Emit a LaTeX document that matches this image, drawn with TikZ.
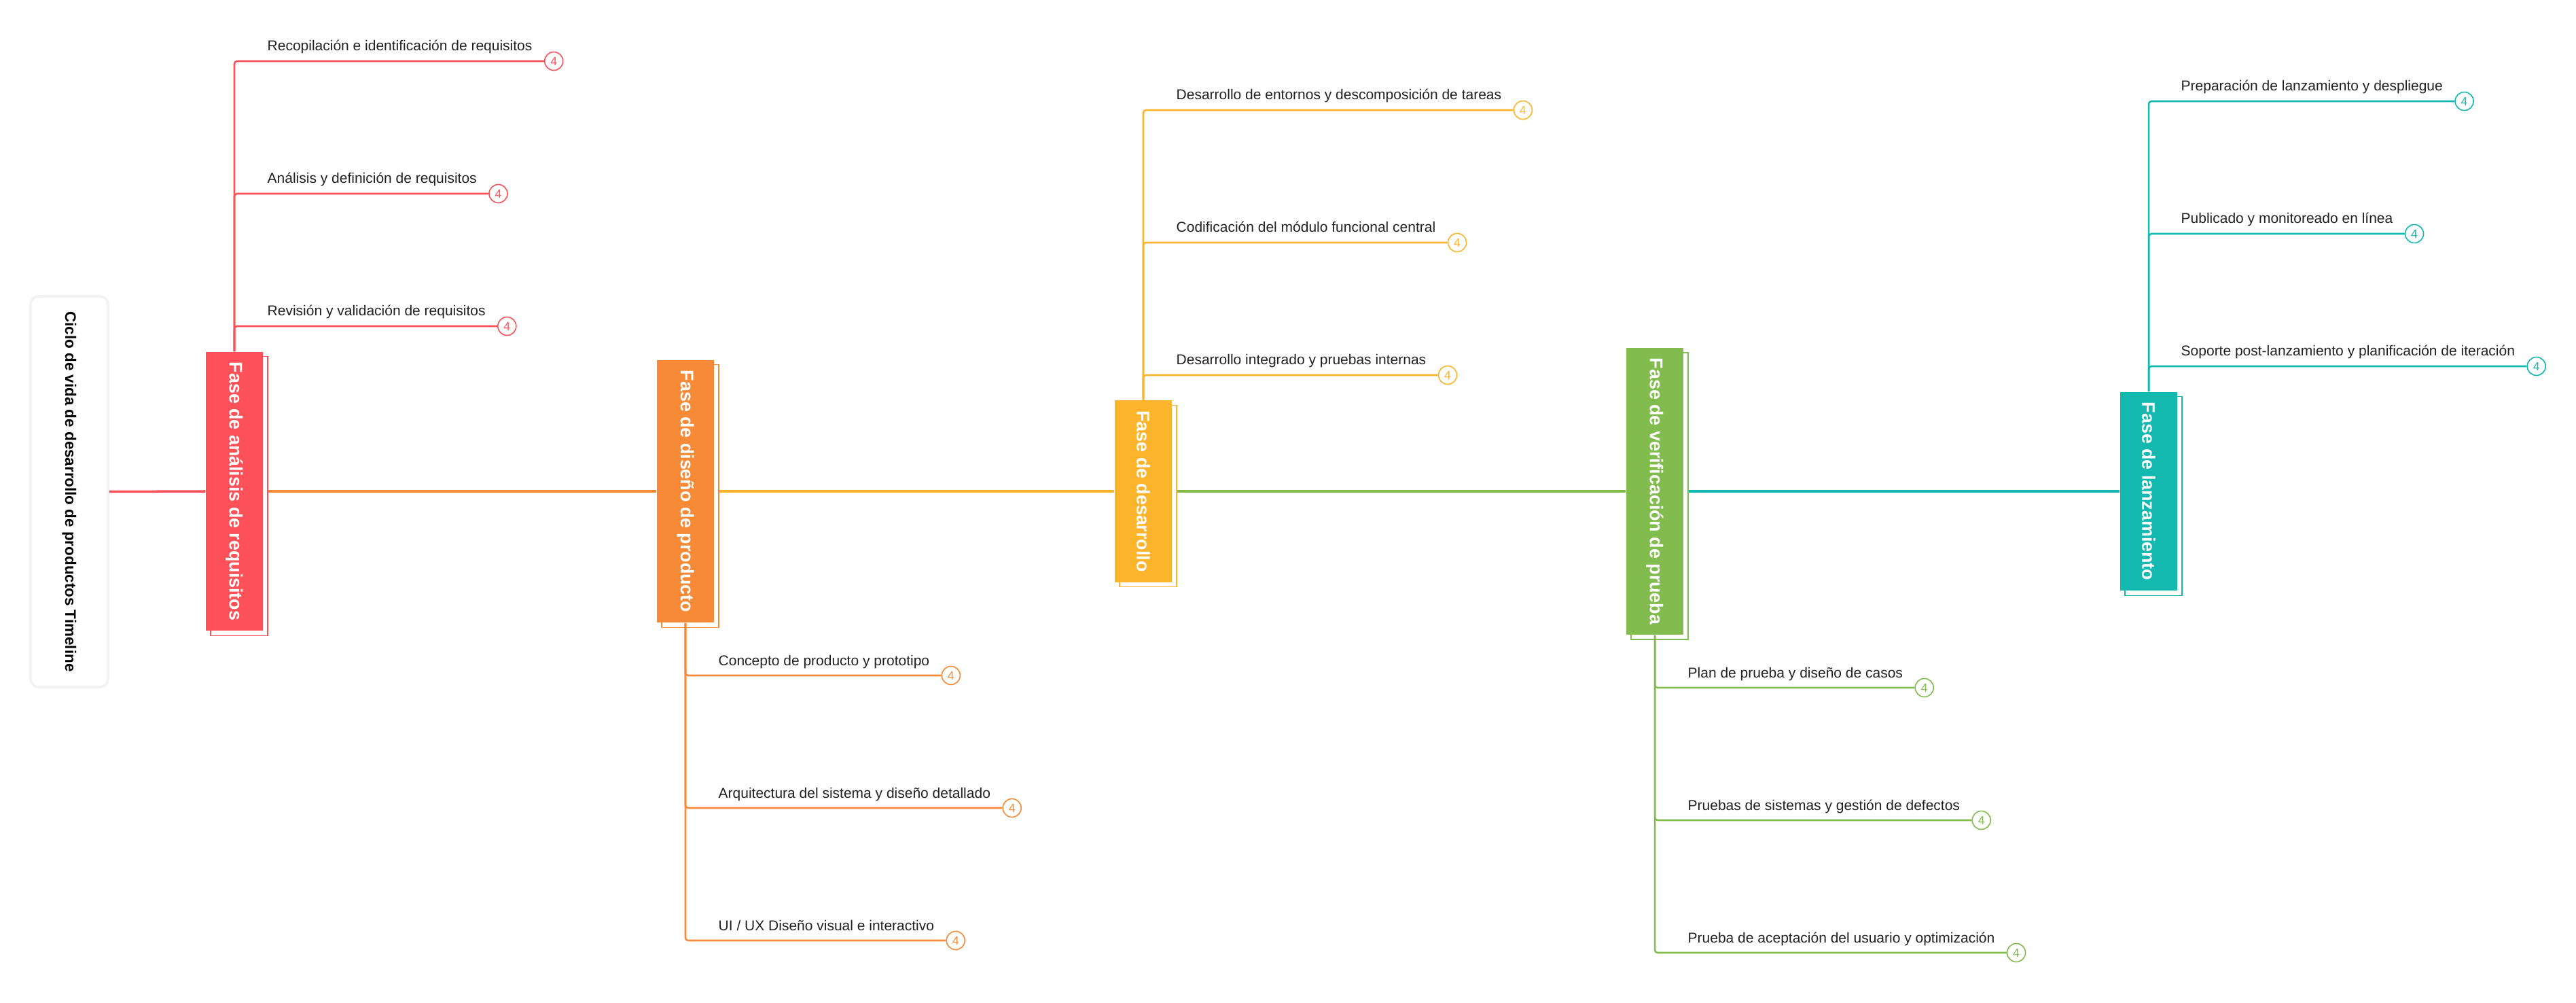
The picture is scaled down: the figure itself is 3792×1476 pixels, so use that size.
\documentclass[tikz,border=0pt]{standalone}
\usepackage{fontspec}
\setmainfont{Liberation Sans}
\usepackage{graphicx}
\usepackage{xcolor}
\usepackage{tikz}
\usetikzlibrary{calc,positioning,shadows}
\definecolor{redphase}{HTML}{FD5159}
\definecolor{orangephase}{HTML}{F78A36}
\definecolor{yellowphase}{HTML}{FBB42C}
\definecolor{greenphase}{HTML}{82BB4E}
\definecolor{tealphase}{HTML}{13B8AE}
\newcommand{\vlabel}[1]{\rotatebox{-90}{#1}}

\begin{document}
\begin{tikzpicture}[
  x=0.01cm, y=-0.01cm,
  root/.style={draw=black!5, fill=white, line width=1pt, rounded corners=0.12cm, minimum width=1.14cm, minimum height=5.75cm, inner sep=0pt, font=\bfseries\fontsize{6.37}{7}\selectfont},
  phase/.style={fill=#1, text=white, minimum width=0.84cm, inner xsep=0pt, inner ysep=0.15cm, font=\bfseries\fontsize{7.63}{9}\selectfont, copy shadow={shadow xshift=0.07cm, shadow yshift=-0.07cm, fill=white, draw=#1, line width=0.35pt}},
  leaf/.style={anchor=base west, inner sep=0pt, text=black!87, font=\fontsize{5.97}{7}\selectfont},
  badge/.style={circle, draw=#1, fill=white, text=#1, line width=0.45pt, minimum size=0.27cm, inner sep=0pt, font=\fontsize{5}{6}\selectfont},
  spine/.style={draw=#1, line width=1pt},
  twig/.style={draw=#1, line width=0.72pt, rounded corners=0.04cm}
]
\useasboundingbox (0,0) rectangle (3792,1476);

% time line
\node[root] (root) at (102,723.5) {\vlabel{Ciclo de vida de desarrollo de productos Timeline}};
\node[phase=redphase] (req) at (345,723) {\vlabel{Fase de análisis de requisitos}};
\node[phase=orangephase] (dis) at (1009,723) {\vlabel{Fase de diseño de producto}};
\node[phase=yellowphase] (dev) at (1683,723) {\vlabel{Fase de desarrollo}};
\node[phase=greenphase] (ver) at (2436,723) {\vlabel{Fase de verificación de prueba}};
\node[phase=tealphase] (lan) at (3163,723) {\vlabel{Fase de lanzamiento}};

\draw[spine=redphase] (root.east) -- (req.west);
\draw[spine=orangephase] ([xshift=0.07cm]req.east) -- (dis.west);
\draw[spine=yellowphase] ([xshift=0.07cm]dis.east) -- (dev.west);
\draw[spine=greenphase] ([xshift=0.07cm]dev.east) -- (ver.west);
\draw[spine=tealphase] ([xshift=0.07cm]ver.east) -- (lan.west);

% requisitos
\node[leaf] (req1) at (393,75) {Recopilación e identificación de requisitos};
\node[leaf] (req2) at (393,270) {Análisis y definición de requisitos};
\node[leaf] (req3) at (393,465) {Revisión y validación de requisitos};
\node[badge=redphase] (req1n) at ($(req1.base east)+(31,15)$) {4};
\node[badge=redphase] (req2n) at ($(req2.base east)+(31,15)$) {4};
\node[badge=redphase] (req3n) at ($(req3.base east)+(31,15)$) {4};
\draw[twig=redphase] (req.north) |- (req1n.west);
\draw[twig=redphase] (req.north) |- (req2n.west);
\draw[twig=redphase] (req.north) |- (req3n.west);

% diseño
\node[leaf] (dis1) at (1057,979) {Concepto de producto y prototipo};
\node[leaf] (dis2) at (1057,1174) {Arquitectura del sistema y diseño detallado};
\node[leaf] (dis3) at (1057,1369) {UI / UX Diseño visual e interactivo};
\node[badge=orangephase] (dis1n) at ($(dis1.base east)+(31,15)$) {4};
\node[badge=orangephase] (dis2n) at ($(dis2.base east)+(31,15)$) {4};
\node[badge=orangephase] (dis3n) at ($(dis3.base east)+(31,15)$) {4};
\draw[twig=orangephase] (dis.south) |- (dis1n.west);
\draw[twig=orangephase] (dis.south) |- (dis2n.west);
\draw[twig=orangephase] (dis.south) |- (dis3n.west);

% desarrollo
\node[leaf] (dev1) at (1731,147) {Desarrollo de entornos y descomposición de tareas};
\node[leaf] (dev2) at (1731,342) {Codificación del módulo funcional central};
\node[leaf] (dev3) at (1731,537) {Desarrollo integrado y pruebas internas};
\node[badge=yellowphase] (dev1n) at ($(dev1.base east)+(31,15)$) {4};
\node[badge=yellowphase] (dev2n) at ($(dev2.base east)+(31,15)$) {4};
\node[badge=yellowphase] (dev3n) at ($(dev3.base east)+(31,15)$) {4};
\draw[twig=yellowphase] (dev.north) |- (dev1n.west);
\draw[twig=yellowphase] (dev.north) |- (dev2n.west);
\draw[twig=yellowphase] (dev.north) |- (dev3n.west);

% verificación
\node[leaf] (ver1) at (2484,997) {Plan de prueba y diseño de casos};
\node[leaf] (ver2) at (2484,1192) {Pruebas de sistemas y gestión de defectos};
\node[leaf] (ver3) at (2484,1387) {Prueba de aceptación del usuario y optimización};
\node[badge=greenphase] (ver1n) at ($(ver1.base east)+(31,15)$) {4};
\node[badge=greenphase] (ver2n) at ($(ver2.base east)+(31,15)$) {4};
\node[badge=greenphase] (ver3n) at ($(ver3.base east)+(31,15)$) {4};
\draw[twig=greenphase] (ver.south) |- (ver1n.west);
\draw[twig=greenphase] (ver.south) |- (ver2n.west);
\draw[twig=greenphase] (ver.south) |- (ver3n.west);

% lanzamiento
\node[leaf] (lan1) at (3210,134) {Preparación de lanzamiento y despliegue};
\node[leaf] (lan2) at (3210,329) {Publicado y monitoreado en línea};
\node[leaf] (lan3) at (3210,524) {Soporte post-lanzamiento y planificación de iteración};
\node[badge=tealphase] (lan1n) at ($(lan1.base east)+(31,15)$) {4};
\node[badge=tealphase] (lan2n) at ($(lan2.base east)+(31,15)$) {4};
\node[badge=tealphase] (lan3n) at ($(lan3.base east)+(31,15)$) {4};
\draw[twig=tealphase] (lan.north) |- (lan1n.west);
\draw[twig=tealphase] (lan.north) |- (lan2n.west);
\draw[twig=tealphase] (lan.north) |- (lan3n.west);
\end{tikzpicture}
\end{document}
